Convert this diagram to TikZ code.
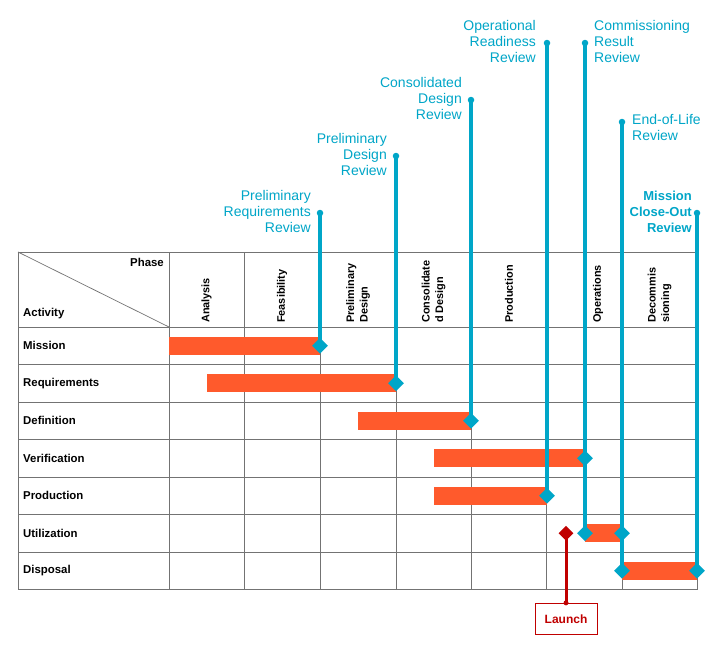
\documentclass[tikz,border=0pt]{standalone}
\usepackage{fontspec}
\setmainfont{Liberation Sans}
\usetikzlibrary{shapes.geometric}
\definecolor{revblue}{RGB}{0,166,200}
\definecolor{barorange}{RGB}{255,90,44}
\definecolor{launchred}{RGB}{192,0,0}
\definecolor{gridgray}{RGB}{115,115,115}
\begin{document}
\begin{tikzpicture}[x=1pt,y=-1pt,
  gridline/.style={draw=gridgray, line width=1pt},
  rowlabel/.style={anchor=west, inner sep=0, font=\bfseries\fontsize{11.4}{13}\selectfont},
  phaselabel/.style={anchor=west, rotate=90, inner sep=0, align=left, font=\bfseries\fontsize{10.9}{13.5}\selectfont},
  bar/.style={fill=barorange, draw=none},
  milestone/.style={diamond, fill=revblue, inner sep=0, minimum width=16pt, minimum height=16pt},
  redmilestone/.style={diamond, fill=launchred, inner sep=0, minimum width=15pt, minimum height=15pt},
  topdot/.style={circle, fill=revblue, inner sep=0, minimum size=6.5pt},
  reddot/.style={circle, fill=launchred, inner sep=0, minimum size=5pt},
  reviewline/.style={draw=revblue, line width=3.2pt},
  redline/.style={draw=launchred, line width=3pt},
  reviewlabel/.style={text=revblue, inner sep=0, font=\fontsize{14}{16}\selectfont},
  launchbox/.style={draw=launchred, line width=0.9pt, text=launchred, minimum width=62pt, minimum height=31pt, inner sep=0, font=\bfseries\fontsize{12}{14}\selectfont}
]
\useasboundingbox (0,0) rectangle (717,646);
\fill[white] (0,0) rectangle (717,646);

% ---------- grid ----------
\foreach \x in {18,169,244,320,396,471,546,622,697}
  \draw[gridline] (\x,252) -- (\x,589.5);
\foreach \y in {252,327,364.5,402,439.5,477,514.5,552,589.5}
  \draw[gridline] (18,\y) -- (697,\y);
\draw[gridline, line width=0.7pt] (18,252) -- (169,327);

% ---------- header ----------
\node[anchor=east, inner sep=0, font=\bfseries\fontsize{11.4}{13}\selectfont] (hPhase) at (164,262) {Phase};
\node[rowlabel] (hActivity) at (23,314) {Activity};
\node[phaselabel] (cAnalysis) at (206.5,323) {Analysis};
\node[phaselabel] (cFeas) at (282,323) {Feasibility};
\node[phaselabel] (cPD) at (358,323) {Preliminary\\Design};
\node[phaselabel] (cCD) at (433.5,323) {Consolidate\\d Design};
\node[phaselabel] (cProd) at (509,323) {Production};
\node[phaselabel] (cOps) at (598,323) {Operations};
\node[phaselabel] (cDec) at (659.5,323) {Decommis\\sioning};

% ---------- row labels ----------
\node[rowlabel] (rMission) at (23,345.75) {Mission};
\node[rowlabel] (rReq) at (23,383.25) {Requirements};
\node[rowlabel] (rDef) at (23,420.75) {Definition};
\node[rowlabel] (rVer) at (23,458.25) {Verification};
\node[rowlabel] (rProd) at (23,495.75) {Production};
\node[rowlabel] (rUtil) at (23,533.25) {Utilization};
\node[rowlabel] (rDisp) at (23,570.75) {Disposal};

% ---------- bars ----------
\fill[bar] (169,336.75) rectangle (320,354.75);
\fill[bar] (207,374.25) rectangle (396,392.25);
\fill[bar] (358,411.75) rectangle (471,429.75);
\fill[bar] (434,449.25) rectangle (585,467.25);
\fill[bar] (434,486.75) rectangle (547,504.75);
\fill[bar] (585,524.25) rectangle (622,542.25);
\fill[bar] (622,561.75) rectangle (697,579.75);

% ---------- coordinates ----------
\coordinate (tPRR) at (320,213);
\coordinate (tPDR) at (396,156);
\coordinate (tCDR) at (471,100);
\coordinate (tORR) at (547,43);
\coordinate (tCRR) at (585,43);
\coordinate (tELR) at (622,122);
\coordinate (tMCR) at (697,213);

\coordinate (mMission) at (320,345.75);
\coordinate (mReq) at (396,383.25);
\coordinate (mDef) at (471,420.75);
\coordinate (mVer) at (585,458.25);
\coordinate (mProd) at (547,495.75);
\coordinate (mUtilA) at (585,533.25);
\coordinate (mUtilB) at (622,533.25);
\coordinate (mDispA) at (622,570.75);
\coordinate (mDispB) at (697,570.75);
\coordinate (mLaunch) at (566,533.25);

% ---------- review lines ----------
\draw[reviewline] (tPRR) -- (mMission);
\draw[reviewline] (tPDR) -- (mReq);
\draw[reviewline] (tCDR) -- (mDef);
\draw[reviewline] (tORR) -- (mProd);
\draw[reviewline] (tCRR) -- (mUtilA);
\draw[reviewline] (tELR) -- (mDispA);
\draw[reviewline] (tMCR) -- (mDispB);

% ---------- launch ----------
\node[launchbox] (launch) at (566,618.8) {Launch};
\draw[redline] (mLaunch) -- (launch.north);
\node[reddot] (launchdot) at (launch.north) {};
\node[redmilestone] (dLaunch) at (mLaunch) {};

% ---------- milestones ----------
\node[milestone] (dMission) at (mMission) {};
\node[milestone] (dReq) at (mReq) {};
\node[milestone] (dDef) at (mDef) {};
\node[milestone] (dVer) at (mVer) {};
\node[milestone] (dProd) at (mProd) {};
\node[milestone] (dUtilA) at (mUtilA) {};
\node[milestone] (dUtilB) at (mUtilB) {};
\node[milestone] (dDispA) at (mDispA) {};
\node[milestone] (dDispB) at (mDispB) {};

\foreach \t in {tPRR,tPDR,tCDR,tORR,tCRR,tELR,tMCR}
  \node[topdot] (dot\t) at (\t) {};

% ---------- review labels ----------
\node[reviewlabel, anchor=east, align=right] (lPRR) at (311,211.5) {Preliminary\\Requirements\\Review};
\node[reviewlabel, anchor=east, align=right] (lPDR) at (387,154.5) {Preliminary\\Design\\Review};
\node[reviewlabel, anchor=east, align=right] (lCDR) at (462,98.5) {Consolidated\\Design\\Review};
\node[reviewlabel, anchor=east, align=right] (lORR) at (536,41.5) {Operational\\Readiness\\Review};
\node[reviewlabel, anchor=west, align=left] (lCRR) at (594,41.5) {Commissioning\\Result\\Review};
\node[reviewlabel, anchor=north west, align=left] (lELR) at (632,114.5) {End-of-Life\\Review};
\node[reviewlabel, anchor=east, align=right, font=\bfseries\fontsize{13}{16}\selectfont] (lMCR) at (692,211.5) {Mission\\Close-Out\\Review};
\end{tikzpicture}
\end{document}
